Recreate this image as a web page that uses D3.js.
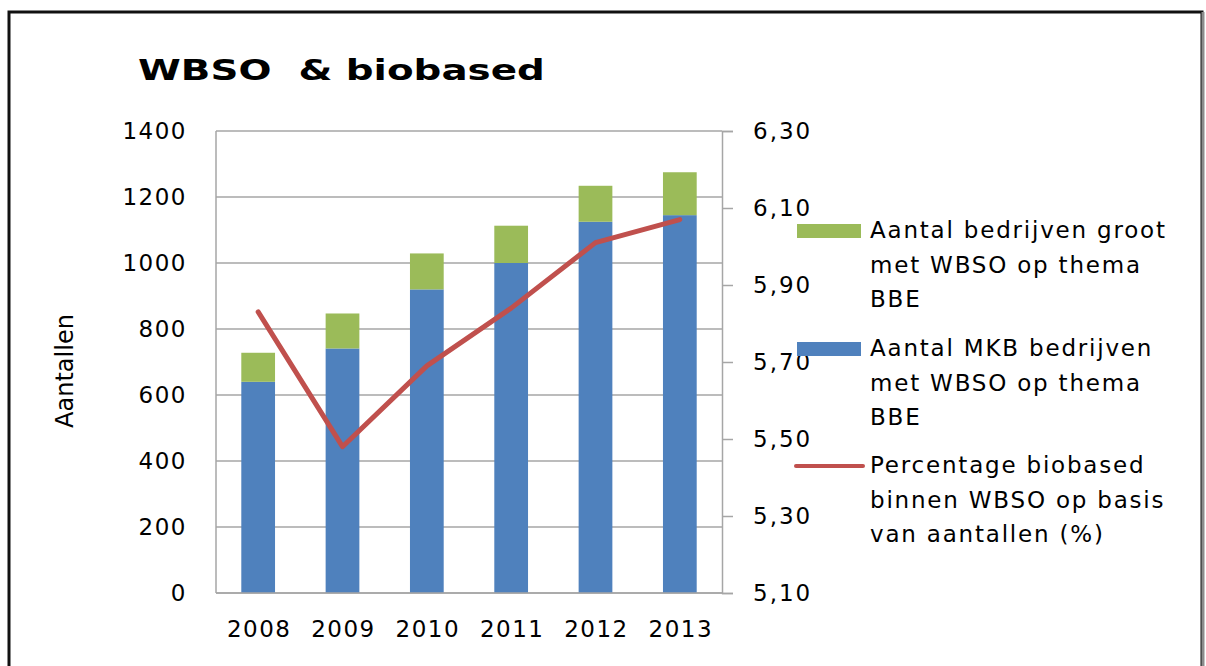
<!DOCTYPE html>
<html>
<head>
<meta charset="utf-8">
<script src="https://cdn.jsdelivr.net/npm/d3@7"></script>
<style>
  body { margin: 0; background: #fff; }
  svg { display: block; }
  text { font-family: "DejaVu Sans", sans-serif; fill: #000; }
</style>
</head>
<body>
<svg width="1206" height="666"></svg>
<script>
// data
var years = ["2008", "2009", "2010", "2011", "2012", "2013"];
var mkb = [640, 741, 920, 1000, 1125, 1145];     // Aantal MKB bedrijven
var groot = [88, 106, 109, 113, 109, 130];       // Aantal bedrijven groot
var pct = [5.83, 5.48, 5.69, 5.84, 6.01, 6.07];  // Percentage biobased
var leftTicks = [0, 200, 400, 600, 800, 1000, 1200, 1400];
var rightTicks = [5.1, 5.3, 5.5, 5.7, 5.9, 6.1, 6.3];

var legendItems = [
  { lines: ["Aantal bedrijven groot", "met WBSO op thema", "BBE"], kind: "groot" },
  { lines: ["Aantal MKB bedrijven", "met WBSO op thema", "BBE"], kind: "mkb" },
  { lines: ["Percentage biobased", "binnen WBSO op basis", "van aantallen (%)"], kind: "pct" }
];

var svg = d3.select("svg");
var colBlue = "#4f81bd", colGreen = "#9bbb59", colRed = "#c0504d", colGrid = "#a6a6a6";

// outer frame
svg.append("rect")
  .attr("x", 9).attr("y", 12)
  .attr("width", 1193).attr("height", 700)
  .attr("fill", "none")
  .attr("stroke", "#111")
  .attr("stroke-width", 3);
svg.append("line")
  .attr("x1", 1203).attr("x2", 1203)
  .attr("y1", 12).attr("y2", 666)
  .attr("stroke", "#8c8c8c").attr("stroke-width", 3);

var plotL = 216, plotR = 722, plotT = 131, plotB = 593;

var x = d3.scaleBand().domain(years).range([plotL, plotR]);
var y = d3.scaleLinear().domain([0, 1400]).range([plotB, plotT]);
var y2 = d3.scaleLinear().domain([5.1, 6.3]).range([plotB, plotT]);
var barW = x.bandwidth() * 0.4;

// title, stretched wide like the reference
var title = svg.append("text")
  .attr("font-size", 29)
  .attr("font-weight", "bold")
  .style("white-space", "pre")
  .text("WBSO  & biobased");
var tw = title.node().getComputedTextLength();
title.attr("transform", "translate(138,80) scale(" + (407 / tw) + ",1)");

// gridlines
svg.append("g")
  .selectAll("line")
  .data(leftTicks)
  .enter()
  .append("line")
  .attr("x1", plotL).attr("x2", plotR)
  .attr("y1", function (d) { return y(d); })
  .attr("y2", function (d) { return y(d); })
  .attr("stroke", colGrid)
  .attr("stroke-width", 1.5);

// left axis line
svg.append("line")
  .attr("x1", plotL).attr("x2", plotL)
  .attr("y1", plotT).attr("y2", plotB)
  .attr("stroke", colGrid).attr("stroke-width", 1.5);

// right axis with outward ticks
var rAxis = svg.append("g")
  .attr("transform", "translate(" + plotR + ",0)")
  .call(d3.axisRight(y2).tickValues(rightTicks).tickSize(11).tickPadding(20)
    .tickFormat(function (d) { return d3.format(".2f")(d).replace(".", ","); }));
rAxis.select(".domain").attr("stroke", colGrid).attr("stroke-width", 1.5);
rAxis.selectAll(".tick line").attr("stroke", colGrid).attr("stroke-width", 1.5);
rAxis.selectAll(".tick text")
  .attr("font-size", 23)
  .attr("font-family", "DejaVu Sans")
  .style("letter-spacing", "2px")
  .attr("fill", "#000");

// left tick labels
svg.append("g")
  .selectAll("text")
  .data(leftTicks)
  .enter()
  .append("text")
  .attr("x", 187)
  .attr("y", function (d) { return y(d); })
  .attr("dy", "0.36em")
  .attr("text-anchor", "end")
  .attr("font-size", 23)
  .style("letter-spacing", "1.5px")
  .text(function (d) { return d; });

// y label
svg.append("text")
  .attr("transform", "translate(73,371) rotate(-90)")
  .attr("text-anchor", "middle")
  .attr("font-size", 24)
  .text("Aantallen");

// bars
var bars = svg.append("g");
bars.selectAll("rect.mkb")
  .data(years)
  .enter()
  .append("rect")
  .attr("class", "mkb")
  .attr("x", function (d) { return x(d) + (x.bandwidth() - barW) / 2; })
  .attr("width", barW)
  .attr("y", function (d, i) { return y(mkb[i]); })
  .attr("height", function (d, i) { return y(0) - y(mkb[i]); })
  .attr("fill", colBlue);

bars.selectAll("rect.groot")
  .data(years)
  .enter()
  .append("rect")
  .attr("class", "groot")
  .attr("x", function (d) { return x(d) + (x.bandwidth() - barW) / 2; })
  .attr("width", barW)
  .attr("y", function (d, i) { return y(mkb[i] + groot[i]); })
  .attr("height", function (d, i) { return y(mkb[i]) - y(mkb[i] + groot[i]); })
  .attr("fill", colGreen);

// bottom axis line
svg.append("line")
  .attr("x1", plotL).attr("x2", plotR)
  .attr("y1", plotB).attr("y2", plotB)
  .attr("stroke", colGrid).attr("stroke-width", 1.5);

// line on right axis
var line = d3.line()
  .x(function (d, i) { return x(years[i]) + x.bandwidth() / 2; })
  .y(function (d) { return y2(d); });

svg.append("path")
  .datum(pct)
  .attr("d", line)
  .attr("fill", "none")
  .attr("stroke", colRed)
  .attr("stroke-width", 5)
  .attr("stroke-linejoin", "round")
  .attr("stroke-linecap", "round");

// x labels
svg.append("g")
  .selectAll("text")
  .data(years)
  .enter()
  .append("text")
  .attr("x", function (d) { return x(d) + x.bandwidth() / 2 + 1; })
  .attr("y", 637)
  .attr("text-anchor", "middle")
  .attr("font-size", 23)
  .style("letter-spacing", "1.5px")
  .text(function (d) { return d; });

// legend
var legendTop = [238, 356, 473];
var lg = svg.append("g");
legendItems.forEach(function (item, k) {
  var base = legendTop[k];
  if (item.kind === "pct") {
    lg.append("line")
      .attr("x1", 796).attr("x2", 863)
      .attr("y1", base - 7).attr("y2", base - 7)
      .attr("stroke", colRed).attr("stroke-width", 4)
      .attr("stroke-linecap", "round");
  } else {
    lg.append("rect")
      .attr("x", 797).attr("y", base - 14)
      .attr("width", 64).attr("height", 14)
      .attr("fill", item.kind === "mkb" ? colBlue : colGreen);
  }
  item.lines.forEach(function (t, j) {
    lg.append("text")
      .attr("x", 870)
      .attr("y", base + j * 34.5)
      .attr("font-size", 23)
      .style("letter-spacing", "1.8px")
      .text(t);
  });
});
</script>
</body>
</html>
